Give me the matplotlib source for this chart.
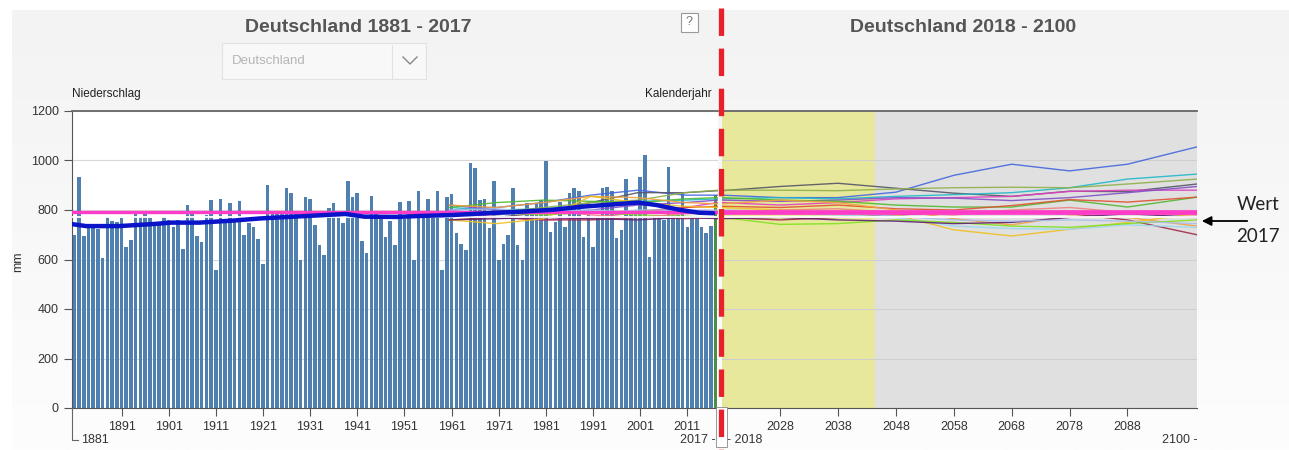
import numpy as np
import matplotlib
matplotlib.use("Agg")
import matplotlib.pyplot as plt
from matplotlib.lines import Line2D
from matplotlib.patches import Rectangle, FancyArrowPatch

plt.rcParams['font.family'] = ['Liberation Sans', 'DejaVu Sans']

# ---------------- data ----------------
YEARS = list(range(1881, 2018))
PRECIP = [699, 935, 693, 726, 728, 724, 605, 771, 757, 753,
          766, 652, 679, 787, 773, 787, 768, 742, 742, 773,
          761, 733, 760, 643, 820, 788, 694, 672, 780, 842,
          557, 845, 746, 827, 760, 838, 700, 748, 732, 684,
          580, 899, 788, 787, 790, 889, 870, 784, 597, 851,
          846, 739, 659, 618, 809, 830, 780, 748, 918, 851,
          870, 674, 628, 856, 785, 780, 692, 757, 659, 832,
          762, 838, 598, 878, 772, 845, 782, 878, 556, 851,
          865, 708, 661, 638, 991, 968, 840, 845, 726, 918,
          600, 663, 699, 888, 659, 598, 830, 787, 830, 840,
          999, 712, 753, 834, 733, 870, 890, 878, 692, 780,
          649, 773, 890, 894, 878, 685, 719, 924, 787, 787,
          935, 1022, 611, 773, 773, 760, 972, 780, 780, 870,
          733, 773, 773, 733, 706, 735, 860]

TREND_YEARS = [1881, 1884, 1891, 1898, 1902, 1908, 1915, 1921, 1928, 1935, 1939,
               1943, 1950, 1955, 1962, 1969, 1976, 1983, 1989, 1996, 2001, 2005,
               2010, 2014, 2017]
TREND_VALS = [743, 735, 735, 743, 749, 749, 757, 766, 773, 780, 784,
              773, 772, 776, 780, 787, 793, 801, 813, 823, 830, 820,
              800, 789, 787]

REF_MEAN = 790      # pink reference line
WHITE_LEVEL = 773   # thin white line

MODEL_YEARS = [1961, 1971, 1981, 1991, 2001, 2011, 2018, 2028, 2038, 2048,
               2058, 2068, 2078, 2088, 2100]
M01 = [800, 810, 830, 860, 880, 860, 860, 850, 850, 872, 940, 985, 958, 985, 1055]
M02 = [780, 770, 790, 830, 870, 870, 878, 895, 908, 888, 868, 855, 876, 874, 905]
M03 = [810, 800, 805, 820, 835, 840, 845, 850, 845, 855, 862, 870, 890, 925, 945]
M04 = [790, 790, 810, 830, 840, 870, 880, 880, 878, 885, 890, 892, 890, 905, 925]
M05 = [800, 770, 760, 770, 790, 810, 830, 820, 830, 845, 850, 855, 875, 880, 880]
M06 = [820, 800, 790, 800, 820, 830, 840, 835, 840, 850, 848, 838, 850, 870, 895]
M07 = [810, 830, 840, 835, 830, 845, 850, 840, 835, 820, 812, 812, 840, 812, 852]
M08 = [790, 780, 800, 790, 795, 810, 815, 810, 820, 805, 800, 818, 842, 832, 852]
M09 = [760, 770, 760, 760, 770, 765, 770, 760, 770, 780, 790, 788, 785, 760, 700]
M10 = [820, 810, 830, 855, 850, 830, 825, 840, 830, 800, 765, 740, 775, 770, 735]
M11 = [760, 745, 765, 855, 830, 815, 810, 800, 790, 780, 720, 695, 722, 750, 785]
M12 = [790, 780, 795, 800, 790, 795, 790, 785, 780, 770, 735, 725, 722, 740, 730]
M13 = [780, 790, 780, 790, 780, 775, 770, 742, 745, 760, 750, 735, 730, 745, 760]
M14 = [760, 765, 770, 765, 760, 770, 765, 770, 760, 755, 745, 750, 770, 785, 770]
M15 = [800, 805, 790, 785, 800, 800, 800, 795, 790, 775, 760, 755, 760, 755, 745]
M16 = [780, 790, 800, 780, 770, 785, 790, 800, 805, 790, 780, 800, 810, 790, 780]
MODELS = [M01, M02, M03, M04, M05, M06, M07, M08, M09, M10, M11, M12, M13, M14, M15, M16]
MODEL_COLORS = ['#4466dd', '#555566', '#20b8c8', '#8fb04a', '#e040c0', '#8050c8',
                '#50b830', '#e05030', '#a02848', '#f0a040', '#f0c020', '#9ad8f0',
                '#80e020', '#602070', '#a8c0ec', '#f08080']

LEFT_TICKS = list(range(1891, 2012, 10))
RIGHT_TICKS = list(range(2028, 2089, 10))
Y_TICKS = list(range(0, 1201, 200))

# ---------------- figure ----------------
W, H = 1289, 450
fig = plt.figure(figsize=(W / 100, H / 100), dpi=100)
fig.patch.set_facecolor('white')

def fx(px):
    return px / W

def fy(py):
    return 1 - py / H

# background gradient
bg = fig.add_axes([fx(12), 0, 1 - fx(12), fy(10)], zorder=-10)
grad = np.linspace(0, 1, 256).reshape(-1, 1)
bg.imshow(grad, aspect='auto', cmap=matplotlib.colors.LinearSegmentedColormap.from_list(
    'g', ['#f3f3f3', '#fdfdfd']), extent=[0, 1, 0, 1])
bg.set_axis_off()

axL = fig.add_axes([fx(72), fy(408), (718 - 72) / W, 297 / H])
axR = fig.add_axes([fx(722), fy(408), (1197 - 722) / W, 297 / H])

# left panel
axL.set_facecolor('white')
axL.set_xlim(1881, 2018)
axL.set_ylim(0, 1200)
bar_x = [y + 0.5 for y in YEARS]
colors = ['#4f80b0'] * (len(YEARS) - 1) + ['#4a9040']
axL.bar(bar_x, PRECIP, width=0.76, color=colors, zorder=2)
axL.set_yticks(Y_TICKS)
axL.yaxis.grid(True, color='#d8d8d8', lw=0.8, zorder=0)
axL.set_axisbelow(True)
axL.set_xticks([t + 0.5 for t in LEFT_TICKS])
axL.set_xticklabels([str(t) for t in LEFT_TICKS])
axL.tick_params(axis='both', direction='out', length=6, color='#555555',
                labelsize=9, labelcolor='#333333')
axL.tick_params(axis='x', pad=3)
axL.spines['right'].set_visible(False)
axL.spines['top'].set_color('#666666')
axL.spines['top'].set_linewidth(1.3)
axL.spines['left'].set_color('#555555')
axL.spines['bottom'].set_color('#555555')

# right panel
axR.set_xlim(2018, 2100)
axR.set_ylim(0, 1200)
axR.axvspan(2018, 2044.4, color='#e8e89c', zorder=0)
axR.axvspan(2044.4, 2100, color='#e0e0e0', zorder=0)
axR.set_yticks(Y_TICKS)
axR.yaxis.grid(True, color='#cfcfcf', lw=0.8, zorder=1)
axR.tick_params(axis='y', left=False, labelleft=False)
axR.set_xticks(RIGHT_TICKS)
axR.set_xticklabels([str(t) for t in RIGHT_TICKS])
axR.tick_params(axis='x', direction='out', length=6, color='#555555',
                labelsize=9, labelcolor='#333333', pad=3)
for s in ['left', 'right']:
    axR.spines[s].set_visible(False)
axR.spines['top'].set_color('#666666')
axR.spines['top'].set_linewidth(1.3)
axR.spines['bottom'].set_color('#555555')

# model lines, reference lines on both panels
for ax in (axL, axR):
    for vals, c in zip(MODELS, MODEL_COLORS):
        ax.plot(MODEL_YEARS, vals, color=c, lw=1.0, alpha=0.9, zorder=3)
    ax.axhline(WHITE_LEVEL, color='white', lw=1.3, zorder=3.5)
    ax.axhline(REF_MEAN, color='#ff3cc8', lw=2.4 if ax is axL else 3.4, zorder=4)

axL.plot(TREND_YEARS, TREND_VALS, color='#0a14c8', lw=3.2, zorder=5,
         solid_capstyle='round')

# ---------------- texts ----------------
fig.text(fx(358), fy(27), 'Deutschland 1881 - 2017', ha='center', va='center',
         fontsize=14, fontweight='bold', color='#555555')
fig.text(fx(963), fy(27), 'Deutschland 2018 - 2100', ha='center', va='center',
         fontsize=14, fontweight='bold', color='#555555')

# help box
fig.patches.append(Rectangle((fx(681), fy(32)), 17 / W, 19 / H, transform=fig.transFigure,
                             facecolor='white', edgecolor='#999999', lw=0.8))
fig.text(fx(689.5), fy(22), '?', ha='center', va='center', fontsize=9, color='#777777')

# dropdown
fig.patches.append(Rectangle((fx(222), fy(79)), 204 / W, 36 / H, transform=fig.transFigure,
                             facecolor='#f8f8f8', edgecolor='#e2e2e2', lw=0.8))
fig.lines.append(Line2D([fx(392), fx(392)], [fy(45), fy(78)], transform=fig.transFigure,
                        color='#e2e2e2', lw=0.8))
fig.lines.append(Line2D([fx(403), fx(410), fx(417)], [fy(57), fy(64), fy(57)],
                        transform=fig.transFigure, color='#888888', lw=1.0))
fig.text(fx(232), fy(61), 'Deutschland', ha='left', va='center', fontsize=9.5, color='#b5b5b5')

fig.text(fx(72), fy(94), 'Niederschlag', ha='left', va='center', fontsize=8.5, color='#222222')
fig.text(fx(712), fy(94), 'Kalenderjahr', ha='right', va='center', fontsize=8.5, color='#222222')
fig.text(fx(18), fy(262), 'mm', ha='center', va='center', rotation=90, fontsize=9, color='#333333')

# bottom range labels
fig.lines.append(Line2D([fx(72), fx(72), fx(78)], [fy(408), fy(440), fy(440)],
                        transform=fig.transFigure, color='#666666', lw=0.8))
fig.text(fx(81), fy(440), '1881', ha='left', va='center', fontsize=9, color='#333333')
fig.text(fx(716), fy(440), '2017 -', ha='right', va='center', fontsize=9, color='#333333')
fig.text(fx(727), fy(440), '- 2018', ha='left', va='center', fontsize=9, color='#333333')
fig.text(fx(1197), fy(440), '2100 -', ha='right', va='center', fontsize=9, color='#333333')

# red dashed divider
fig.patches.append(Rectangle((fx(716), fy(447)), 11 / W, 40 / H, transform=fig.transFigure,
                             facecolor='white', edgecolor='#888888', lw=0.6, zorder=8))
fig.lines.append(Line2D([fx(720.5), fx(720.5)], [fy(8), fy(450)], transform=fig.transFigure,
                        color='#e8202a', lw=3.8, linestyle=(0, (5.2, 2.4)), zorder=10))

# annotation
fig.text(fx(1258), fy(205), 'Wert', ha='center', va='center', fontsize=13.5, color='#222222',
         family=['Lato', 'DejaVu Sans'])
fig.text(fx(1258), fy(237), '2017', ha='center', va='center', fontsize=13.5, color='#222222',
         family=['Lato', 'DejaVu Sans'])
fig.patches.append(FancyArrowPatch((fx(1250), fy(221)), (fx(1199), fy(221)),
                                   transform=fig.transFigure, arrowstyle='-|>',
                                   mutation_scale=14, color='black', lw=1.3))

fig.savefig('out.png', dpi=100, facecolor=fig.get_facecolor())
